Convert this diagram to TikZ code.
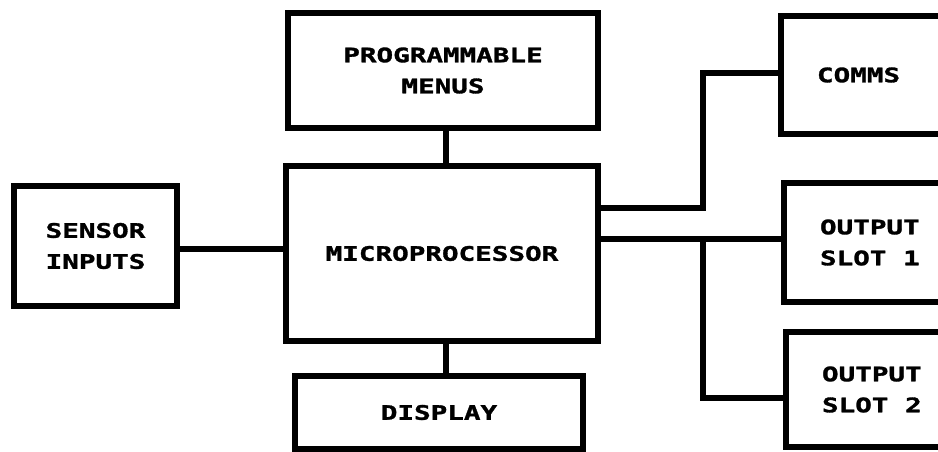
\documentclass[tikz,border=0pt]{standalone}
\usepackage{fontspec}
\newfontfamily\pix{DejaVu Sans Mono}[FakeStretch=1.38, FakeBold=1.5]
\newcommand{\pixsp}{\phantom{0}}
\begin{document}
\begin{tikzpicture}[x=1pt,y=1pt,
  box/.style={draw=black, line width=6pt, rectangle, inner sep=0pt, line join=miter,
    font=\pix\bfseries\fontsize{20}{31}\selectfont},
  sidebox/.style={box, anchor=west, align=left, text width=180pt, inner xsep=36pt},
  conn/.style={draw=black, line width=6pt, line join=miter}]
\useasboundingbox (0,0) rectangle (938,-452);
\clip (0,0) rectangle (938,-452);
\fill[white] (0,0) rectangle (938,-452);
% boxes
\node[box, minimum width=310pt, minimum height=115pt, align=center] (prog) at (443,-70.5) {PROGRAMMABLE\\MENUS};
\node[box, minimum width=312pt, minimum height=175pt] (micro) at (442,-253.5) {MICROPROCESSOR};
\node[box, minimum width=163pt, minimum height=120pt, align=left] (sensor) at (95.5,-246) {SENSOR\\INPUTS};
\node[box, minimum width=288pt, minimum height=73pt] (display) at (439,-412.5) {DISPLAY};
\node[sidebox, minimum height=118pt] (comms) at (778,-75) {COMMS};
\node[sidebox, minimum height=119pt] (out1) at (781,-242.5) {OUTPUT\\SLOT\pixsp 1};
\node[sidebox, minimum height=115pt] (out2) at (783,-389.5) {OUTPUT\\SLOT\pixsp 2};
% junction coordinates
\coordinate (ya) at (0,-208);
\coordinate (yb) at (0,-239);
\coordinate (jc) at (703,-73);
\coordinate (jo) at (703,-398);
\coordinate (ys) at (0,-249);
\coordinate (xm) at (446,0);
% connectors
\draw[conn] (sensor.east |- ys) -- (micro.west |- ys);
\draw[conn] (prog.south -| xm) -- (micro.north -| xm);
\draw[conn] (micro.south -| xm) -- (display.north -| xm);
\draw[conn] (micro.east |- ya) -| (jc) -- (comms.west |- jc);
\draw[conn] (micro.east |- yb) -- (out1.west |- yb);
\draw[conn] (jc |- yb) -- (jo) -- (out2.west |- jo);
\end{tikzpicture}
\end{document}
